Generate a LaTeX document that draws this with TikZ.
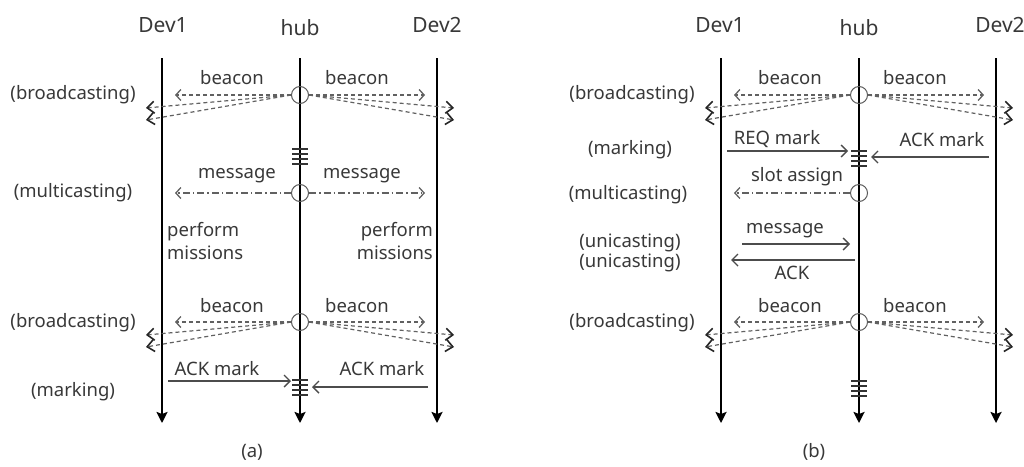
\documentclass[tikz,border=0pt]{standalone}
\usepackage{fontspec}
\setmainfont{Noto Sans}
\usetikzlibrary{arrows.meta}
\tikzset{
 life/.style={line width=2.6pt, -{Stealth[length=11pt,width=11pt,inset=2pt]}},
 msg/.style={draw=black!70, line width=1.5pt, -{Straight Barb[length=6pt,width=12pt,line width=1.4pt]}},
 bcn/.style={draw=black!62, line width=1.2pt, dash pattern=on 4pt off 3pt, -{Straight Barb[length=5pt,width=11pt,line width=1.3pt]}},
 bfan/.style={draw=black!62, line width=1.2pt, dash pattern=on 4pt off 3pt, -{Straight Barb[length=7pt,width=12pt,line width=1.6pt,color=black!85]}},
 mcast/.style={draw=black!62, line width=1.2pt, dash pattern=on 7pt off 3pt on 1.5pt off 3pt, -{Straight Barb[length=5pt,width=11pt,line width=1.3pt]}},
 hubcirc/.style={circle, draw=black!65, line width=1pt, minimum size=17pt, inner sep=0pt},
 lbl/.style={font=\fontsize{18.5}{22}\selectfont, inner sep=0pt, text=black!78},
 head/.style={font=\fontsize{21}{25}\selectfont, inner sep=0pt, text=black!78},
 tick/.style={line width=1.2pt, draw=black!80},
}
\newcommand\burst[3]{% name, hub x, y
 \node[hubcirc] (#1) at (#2,#3) {};
 \coordinate (#1L0) at (#2-125,#3);
 \coordinate (#1L1) at (#2-154,#3+13);
 \coordinate (#1L2) at (#2-154,#3+25);
 \coordinate (#1R0) at (#2+125,#3);
 \coordinate (#1R1) at (#2+154,#3+13);
 \coordinate (#1R2) at (#2+154,#3+25);
 \draw[bcn] (#1.west) -- (#1L0);
 \draw[bfan] (#1.west) -- (#1L1);
 \draw[bfan] (#1.west) -- (#1L2);
 \draw[bcn] (#1.east) -- (#1R0);
 \draw[bfan] (#1.east) -- (#1R1);
 \draw[bfan] (#1.east) -- (#1R2);
}
\newcommand\ticks[2]{% hub x, top y
 \foreach \k in {0,...,3} \draw[tick] (#1-8,#2+\k*5) -- (#1+8,#2+\k*5);
}
\begin{document}
\begin{tikzpicture}[x=1pt,y=-1pt]
\useasboundingbox (0,0) rectangle (1024,466);
% ---------- panel (a) ----------
\node[head] (aD1) at (163,25) {Dev1};
\node[head] (aH) at (300,28) {hub};
\node[head] (aD2) at (437,25) {Dev2};
\coordinate (aD1t) at (162,58); \coordinate (aD1b) at (162,423);
\coordinate (aHt) at (300,58); \coordinate (aHb) at (300,423);
\coordinate (aD2t) at (437,58); \coordinate (aD2b) at (437,423);
\draw[life] (aD1t) -- (aD1b);
\draw[life] (aHt) -- (aHb);
\draw[life] (aD2t) -- (aD2b);

\node[lbl] (aL1) at (73,95) {(broadcasting)};
\node[lbl] (aL2) at (73,193) {(multicasting)};
\node[lbl] (aL3) at (73,323) {(broadcasting)};
\node[lbl] (aL4) at (73,392) {(marking)};

\burst{ab1}{300}{95}
\node[lbl] (ab1t1) at (232,78) {beacon};
\node[lbl] (ab1t2) at (357,78) {beacon};
\ticks{300}{149}

\node[hubcirc] (am) at (300,193) {};
\coordinate (amL) at (175,193); \coordinate (amR) at (425,193);
\draw[mcast] (am.west) -- (amL);
\draw[mcast] (am.east) -- (amR);
\node[lbl] (amt1) at (237,176) {message};
\node[lbl] (amt2) at (362,176) {message};

\node[lbl, anchor=west] (ap1) at (167,232) {perform};
\node[lbl, anchor=west] (ap2) at (167,253) {missions};
\node[lbl, anchor=east] (ap3) at (433,232) {perform};
\node[lbl, anchor=east] (ap4) at (433,253) {missions};

\burst{ab2}{300}{322}
\node[lbl] (ab2t1) at (232,306) {beacon};
\node[lbl] (ab2t2) at (357,306) {beacon};
\ticks{300}{380}

\coordinate (aa1s) at (168,381); \coordinate (aa1e) at (291,381);
\coordinate (aa2s) at (428,387); \coordinate (aa2e) at (312,387);
\draw[msg] (aa1s) -- (aa1e);
\draw[msg] (aa2s) -- (aa2e);
\node[lbl] (aa1t) at (217,369) {ACK mark};
\node[lbl] (aa2t) at (382,369) {ACK mark};

\node[lbl] (acap) at (252,452) {(a)};

% ---------- panel (b) ----------
\node[head] (bD1) at (720,25) {Dev1};
\node[head] (bH) at (859,28) {hub};
\node[head] (bD2) at (1000,25) {Dev2};
\coordinate (bD1t) at (721,58); \coordinate (bD1b) at (721,423);
\coordinate (bHt) at (859,58); \coordinate (bHb) at (859,423);
\coordinate (bD2t) at (996,58); \coordinate (bD2b) at (996,423);
\draw[life] (bD1t) -- (bD1b);
\draw[life] (bHt) -- (bHb);
\draw[life] (bD2t) -- (bD2b);

\node[lbl] (bL1) at (632,95) {(broadcasting)};
\node[lbl] (bL2) at (630,150) {(marking)};
\node[lbl] (bL3) at (628,195) {(multicasting)};
\node[lbl] (bL4) at (630,243) {(unicasting)};
\node[lbl] (bL5) at (630,263) {(unicasting)};
\node[lbl] (bL6) at (632,323) {(broadcasting)};

\burst{bb1}{859}{95}
\node[lbl] (bb1t1) at (790,78) {beacon};
\node[lbl] (bb1t2) at (915,78) {beacon};

\coordinate (bq1s) at (727,151); \coordinate (bq1e) at (848,151);
\coordinate (bq2s) at (989,157); \coordinate (bq2e) at (871,157);
\draw[msg] (bq1s) -- (bq1e);
\draw[msg] (bq2s) -- (bq2e);
\node[lbl] (bq1t) at (777,139) {REQ mark};
\node[lbl] (bq2t) at (942,140) {ACK mark};
\ticks{859}{151}

\node[hubcirc] (bm) at (859,193) {};
\coordinate (bmL) at (734,193);
\draw[mcast] (bm.west) -- (bmL);
\node[lbl] (bmt) at (797,177) {slot assign};

\coordinate (bu1s) at (742,244); \coordinate (bu1e) at (850,244);
\coordinate (bu2s) at (855,260); \coordinate (bu2e) at (731,260);
\draw[msg] (bu1s) -- (bu1e);
\draw[msg] (bu2s) -- (bu2e);
\node[lbl] (bu1t) at (785,231) {message};
\node[lbl] (bu2t) at (792,273) {ACK};

\burst{bb2}{859}{322}
\node[lbl] (bb2t1) at (790,306) {beacon};
\node[lbl] (bb2t2) at (915,306) {beacon};
\ticks{859}{381}

\node[lbl] (bcap) at (814,452) {(b)};
\end{tikzpicture}
\end{document}
